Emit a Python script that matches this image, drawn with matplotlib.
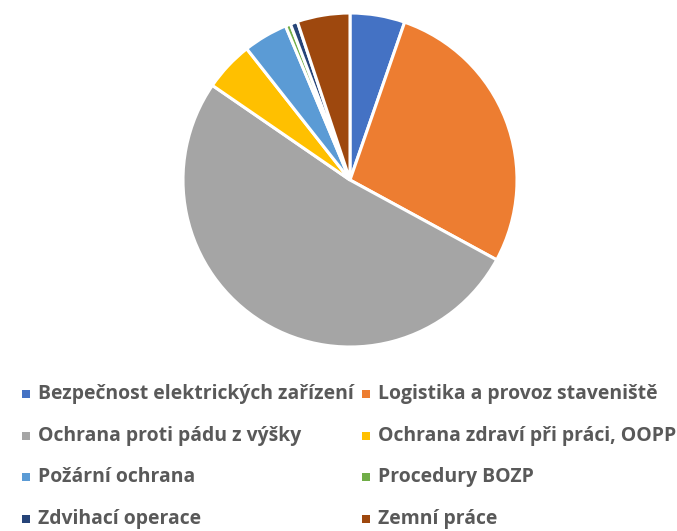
import matplotlib
matplotlib.use("Agg")
import matplotlib.pyplot as plt
from matplotlib.patches import Rectangle

categories = ["Bezpečnost elektrických zařízení", "Logistika a provoz staveniště",
              "Ochrana proti pádu z výšky", "Ochrana zdraví při práci, OOPP",
              "Požární ochrana", "Procedury BOZP",
              "Zdvihací operace", "Zemní práce"]
values = [5.3, 27.6, 51.6, 4.8, 4.3, 0.5, 0.7, 5.1]
colors = ["#4472C4", "#ED7D31", "#A5A5A5", "#FFC000",
          "#5B9BD5", "#70AD47", "#264478", "#9E480E"]

W, H = 677, 531
fig = plt.figure(figsize=(W/100, H/100), dpi=100)
cx, cy, r = 350, 180, 167
ax = fig.add_axes([(cx-r)/W, (H-cy-r)/H, 2*r/W, 2*r/H])
ax.pie(values, colors=colors, startangle=90, counterclock=False,
       wedgeprops=dict(edgecolor="white", linewidth=2.2))
ax.set_xlim(-1, 1); ax.set_ylim(-1, 1)
ax.set_aspect("equal"); ax.axis("off")

col_x = [26, 366]
row_y = [394, 436, 477, 519]
texts = []
for i, (lab, c) in enumerate(zip(categories, colors)):
    x = col_x[i % 2]; y = row_y[i // 2]
    fig.patches.append(Rectangle(((x-4)/W, (H-y-4)/H), 8/W, 8/H,
                                 transform=fig.transFigure, facecolor=c, edgecolor="none"))
    t = fig.text((x+12)/W, (H-y)/H, lab, fontsize=13, fontweight="bold", family="Open Sans",
                 color="#595959", va="center", ha="left")
    texts.append(t)

# fit font size so the first label spans ~312 px like the reference
fig.canvas.draw()
rend = fig.canvas.get_renderer()
w0 = texts[0].get_window_extent(rend).width
fs = 13 * 312 / w0
for t in texts:
    t.set_fontsize(fs)

fig.savefig("out.png", dpi=100)
